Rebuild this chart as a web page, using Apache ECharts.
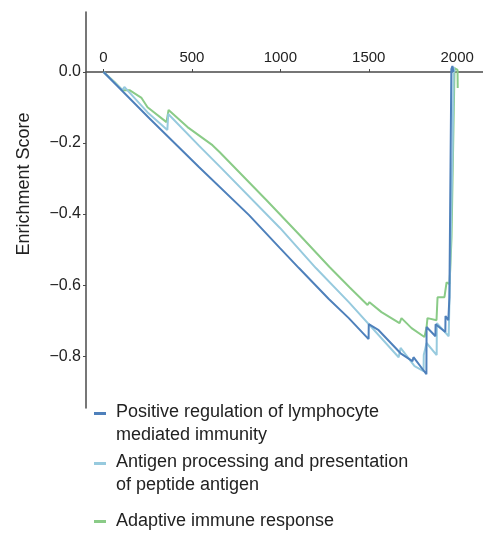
<!DOCTYPE html>
<html>
<head>
<meta charset="utf-8">
<script src="https://cdn.jsdelivr.net/npm/echarts@6/dist/echarts.min.js"></script>
<style>
  html, body { margin: 0; padding: 0; background: #fff; }
  #chart { width: 483px; height: 534px; }
</style>
</head>
<body>
<div id="chart"></div>
<script>
// series names
var names = [
  'Positive regulation of lymphocyte mediated immunity',
  'Antigen processing and presentation of peptide antigen',
  'Adaptive immune response'
];
var legendText = [
  'Positive regulation of lymphocyte\nmediated immunity',
  'Antigen processing and presentation\nof peptide antigen',
  'Adaptive immune response'
];
var colors = ['#4e80bb', '#97cade', '#8acb87'];

// gene rank (x) and running enrichment score (y)
var lymphX = [0, 259, 541, 547, 823, 998, 1105, 1274, 1387, 1499, 1500, 1556, 1680, 1747, 1753, 1826, 1827, 1877, 1878, 1933, 1934, 1950, 1956, 1967, 1973, 1979];
var lymphY = [0, -0.130, -0.268, -0.263, -0.403, -0.496, -0.552, -0.639, -0.693, -0.752, -0.710, -0.727, -0.792, -0.814, -0.803, -0.851, -0.718, -0.744, -0.710, -0.732, -0.687, -0.699, -0.634, 0.008, 0.017, 0];

var antigenX = [0, 107, 118, 248, 361, 366, 541, 665, 998, 1201, 1387, 1669, 1680, 1759, 1810, 1811, 1827, 1884, 1885, 1952, 1963, 1974, 1980, 1985];
var antigenY = [0, -0.051, -0.042, -0.113, -0.163, -0.118, -0.208, -0.270, -0.439, -0.552, -0.648, -0.803, -0.777, -0.828, -0.842, -0.797, -0.763, -0.797, -0.707, -0.744, -0.749, -0.220, 0.014, 0];

var adaptiveX = [0, 62, 107, 147, 215, 249, 356, 368, 475, 616, 656, 922, 1109, 1278, 1391, 1493, 1504, 1572, 1674, 1685, 1742, 1815, 1827, 1832, 1883, 1889, 1928, 1940, 1957, 1968, 1985, 2002, 2003];
var adaptiveY = [0, -0.028, -0.051, -0.051, -0.073, -0.099, -0.141, -0.107, -0.155, -0.206, -0.225, -0.361, -0.459, -0.549, -0.606, -0.656, -0.648, -0.676, -0.707, -0.693, -0.721, -0.746, -0.718, -0.693, -0.699, -0.634, -0.634, -0.592, -0.597, -0.465, 0.011, 0.006, -0.045];

var xTicks = [0, 500, 1000, 1500, 2000];
var yTicks = [0, -0.2, -0.4, -0.6, -0.8];

var xMin = -99, xMax = 2146;

function pairs(xs, ys) {
  return xs.map(function (x, i) { return [x, ys[i]]; });
}

var font = 'Liberation Sans, Arial, Helvetica, sans-serif';
var chart = echarts.init(document.getElementById('chart'));

function makeLegend(i, top, twoLines) {
  return {
    data: [names[i]],
    left: 94,
    top: top,
    orient: 'vertical',
    padding: 0,
    itemWidth: 12,
    itemHeight: twoLines ? 24 : 3,
    icon: twoLines ? 'path://M0,0H12V3H0Z M0,24H0.01V24.01H0Z' : 'rect',
    selectedMode: false,
    formatter: function () { return legendText[i]; },
    textStyle: {
      fontFamily: font,
      fontSize: 18,
      lineHeight: 23,
      color: '#222',
      padding: [0, 0, 0, 5]
    }
  };
}

chart.setOption({
  animation: false,
  color: colors,
  legend: [
    makeLegend(0, 401, true),
    makeLegend(1, 451, true),
    makeLegend(2, 510, false)
  ],
  grid: [
    // plot area
    { left: 86, right: 0, top: 12, bottom: 126, containLabel: false, outerBoundsMode: 'none' },
    // zero line carrying the rank axis
    { left: 86, right: 0, top: 72, height: 1, containLabel: false, outerBoundsMode: 'none' }
  ],
  graphic: [{
    type: 'text',
    x: 24,
    y: 184,
    rotation: Math.PI / 2,
    style: {
      text: 'Enrichment Score',
      fontFamily: font,
      fontSize: 18,
      fill: '#222',
      align: 'center',
      verticalAlign: 'middle'
    }
  }],
  xAxis: [
    {
      type: 'value', gridIndex: 0, min: xMin, max: xMax,
      axisLine: { show: false }, axisTick: { show: false },
      axisLabel: { show: false }, splitLine: { show: false }
    },
    {
      type: 'value', gridIndex: 1, position: 'top', min: xMin, max: xMax,
      axisLine: { onZero: false, lineStyle: { color: '#4a4a4a', width: 1.5 } },
      axisTick: { show: true, length: 3, customValues: xTicks, lineStyle: { color: '#4a4a4a' } },
      axisLabel: {
        customValues: xTicks, margin: 7, fontFamily: font, fontSize: 15, color: '#222',
        formatter: function (v) { return String(v); }
      },
      splitLine: { show: false }
    }
  ],
  yAxis: [
    {
      type: 'value', gridIndex: 0,
      min: -0.946,
      max: 0.169,
      axisLine: { show: true, onZero: false, lineStyle: { color: '#4a4a4a', width: 1.5 } },
      axisTick: { show: true, length: 3, customValues: yTicks, lineStyle: { color: '#4a4a4a' } },
      axisLabel: {
        customValues: yTicks,
        margin: 5,
        fontFamily: font,
        fontSize: 16,
        color: '#222',
        formatter: function (v) { return v.toFixed(1).replace('-', '\u2212'); }
      },
      splitLine: { show: false }
    },
    {
      type: 'value', gridIndex: 1, min: 0, max: 1, show: false
    }
  ],
  series: [
    {
      name: names[2], type: 'line', data: pairs(adaptiveX, adaptiveY),
      showSymbol: false, lineStyle: { width: 2, color: colors[2] }, itemStyle: { color: colors[2] }, z: 2
    },
    {
      name: names[1], type: 'line', data: pairs(antigenX, antigenY),
      showSymbol: false, lineStyle: { width: 2, color: colors[1] }, itemStyle: { color: colors[1] }, z: 3
    },
    {
      name: names[0], type: 'line', data: pairs(lymphX, lymphY),
      showSymbol: false, lineStyle: { width: 2, color: colors[0] }, itemStyle: { color: colors[0] }, z: 4
    }
  ]
});
</script>
</body>
</html>
